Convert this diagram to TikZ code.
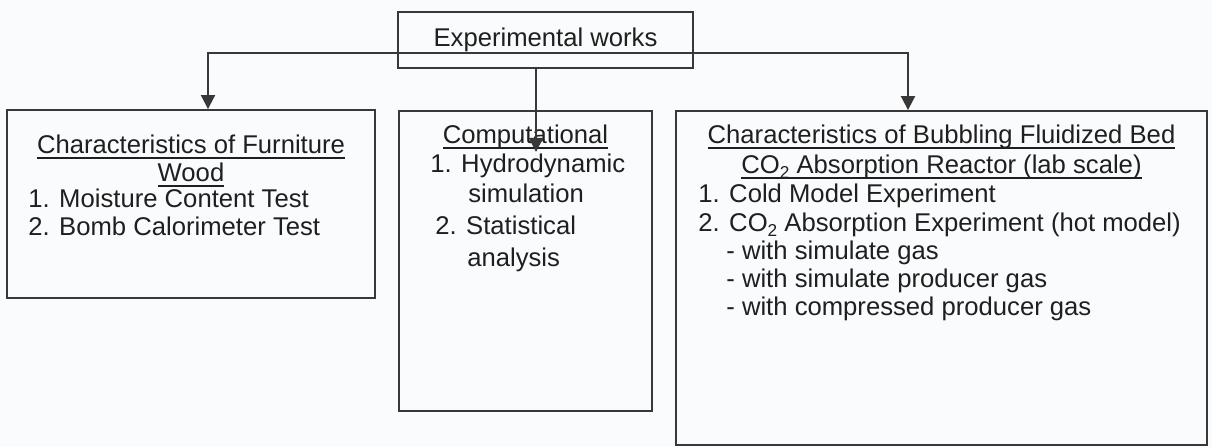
\documentclass[tikz,border=0pt]{standalone}
\usepackage{fontspec}
\setmainfont{Liberation Sans}
\usetikzlibrary{arrows.meta}
\definecolor{ink}{HTML}{383838}
\definecolor{paper}{HTML}{FAFBFC}
\newcommand{\uln}[1]{\setbox0\hbox{#1}\rlap{\rule[-3.3pt]{\wd0}{0.9pt}}\box0}
\newcommand{\lowtwo}{\raisebox{-3.2pt}{\fontsize{9.8}{10}\selectfont 2}}
\tikzset{
  box/.style={draw=ink, line width=1.1pt, inner sep=0pt},
  txt/.style={text=black!88, inner sep=0pt, font=\fontsize{14.6}{17}\selectfont},
  line/.style={ink, line width=1.1pt},
  arrow/.style={line, -{Triangle[width=8pt, length=8pt]}}
}
\begin{document}
\begin{tikzpicture}[x=0.02cm, y=-0.02cm]
      \fill[paper] (0,0) rectangle (1212,447);
      \useasboundingbox (0,0) rectangle (1212,447);
      % boxes
      \node[box, txt, minimum width=5.9cm, minimum height=1.12cm] (works) at (545.5,40) {Experimental works};
      \node[box, minimum width=7.36cm, minimum height=3.76cm] (furn) at (191,204) {};
      \node[box, minimum width=5.06cm, minimum height=6cm] (comp) at (525.5,261) {};
      \node[box, minimum width=10.62cm, minimum height=6.68cm] (bfb) at (941.5,278) {};
      % furniture wood
      \node[txt, anchor=base] (furnhead) at (191,153) {\uln{Characteristics of Furniture}};
      \node[txt, anchor=base] (furnhead2) at (191,181) {\uln{Wood}};
      \foreach \i/\y/\t in {1/207/{1. Moisture Content Test}, 2/235/{2. Bomb Calorimeter Test}}
        \node[txt, anchor=base west] (furn\i) at (28,\y) {\t};
      % computational
      \node[txt, anchor=base] (comphead) at (525.5,143) {\uln{Computational}};
      \foreach \i/\x/\y/\t in {1/430/172/{1. Hydrodynamic}, 2/468/202/{simulation},
                               3/435/234/{2. Statistical}, 4/467/266/{analysis}}
        \node[txt, anchor=base west] (comp\i) at (\x,\y) {\t};
      % fluidized bed
      \node[txt, anchor=base] (bfbhead) at (941.5,143) {\uln{Characteristics of Bubbling Fluidized Bed}};
      \node[txt, anchor=base] (bfbhead2) at (941.5,173) {\uln{CO\lowtwo{} Absorption Reactor (lab scale)}};
      \foreach \i/\x/\y/\t in {1/698/202/{1. Cold Model Experiment},
                               2/698/231/{2. CO\lowtwo{} Absorption Experiment (hot model)},
                               3/726/259/{- with simulate gas},
                               4/726/287/{- with simulate producer gas},
                               5/726/315/{- with compressed producer gas}}
        \node[txt, anchor=base west] (bfb\i) at (\x,\y) {\t};
      % connectors
      \coordinate (busL) at (208,53);
      \coordinate (busR) at (908,53);
      \coordinate (comptip) at (536,152);
      \draw[line, {Triangle[width=8pt, length=8pt]}-{Triangle[width=8pt, length=8pt]}]
            (busL |- furn.north) -- (busL) -- (busR) -- (busR |- bfb.north);
      \draw[arrow] (works.south -| comptip) -- (comptip);
\end{tikzpicture}
\end{document}
